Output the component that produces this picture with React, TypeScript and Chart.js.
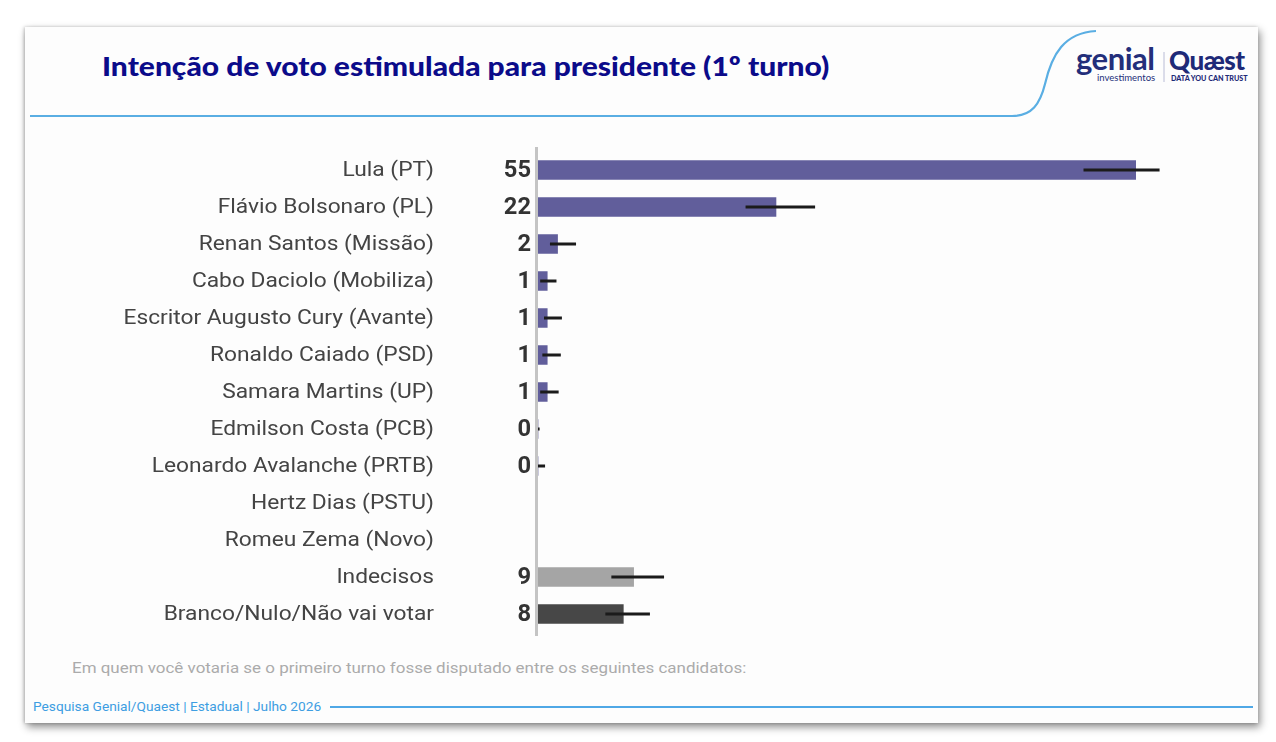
import React, { useEffect, useRef } from "react";
import { Chart, registerables } from "chart.js";

Chart.register(...registerables);

const categories = [
  "Lula (PT)",
  "Flávio Bolsonaro (PL)",
  "Renan Santos (Missão)",
  "Cabo Daciolo (Mobiliza)",
  "Escritor Augusto Cury (Avante)",
  "Ronaldo Caiado (PSD)",
  "Samara Martins (UP)",
  "Edmilson Costa (PCB)",
  "Leonardo Avalanche (PRTB)",
  "Hertz Dias (PSTU)",
  "Romeu Zema (Novo)",
  "Indecisos",
  "Branco/Nulo/Não vai votar",
];

const values: (number | null)[] = [55, 21.9, 1.8, 0.85, 0.85, 0.85, 0.85, 0, 0, null, null, 8.8, 7.85];
const errorLow: (number | null)[] = [50.2, 19.1, 1.1, 0.2, 0.55, 0.4, 0.2, 0, 0, null, null, 6.75, 6.2];
const errorHigh: (number | null)[] = [57.2, 25.5, 3.5, 1.7, 2.2, 2.1, 1.9, 0.15, 0.65, null, null, 11.6, 10.3];
const barColors = [
  "#615e9b", "#615e9b", "#615e9b", "#615e9b", "#615e9b", "#615e9b", "#615e9b",
  "#615e9b", "#615e9b", "#615e9b", "#615e9b", "#a5a5a5", "#474747",
];

const TITLE = "Intenção de voto estimulada para presidente (1º turno)";
const QUESTION = "Em quem você votaria se o primeiro turno fosse disputado entre os seguintes candidatos:";
const FOOTER = "Pesquisa Genial/Quaest | Estadual | Julho 2026";

const LABEL_STRETCH = 1.11;
const VALUE_STRETCH = 1.03;

const axisLinePlugin = {
  id: "axisLine",
  beforeDatasetsDraw(chart: any) {
    const { ctx, chartArea } = chart;
    ctx.save();
    ctx.strokeStyle = "#c4c4c4";
    ctx.lineWidth = 3;
    ctx.beginPath();
    ctx.moveTo(chartArea.left - 1.5, chartArea.top - 4.5);
    ctx.lineTo(chartArea.left - 1.5, chartArea.bottom + 3.5);
    ctx.stroke();
    ctx.restore();
  },
};

const categoryLabelPlugin = {
  id: "categoryLabels",
  afterDraw(chart: any) {
    const { ctx } = chart;
    const ys = chart.scales.y;
    ctx.save();
    ctx.fillStyle = "#444444";
    ctx.font = "20.5px Roboto";
    ctx.textAlign = "right";
    ctx.textBaseline = "middle";
    ys.ticks.forEach((t: any, i: number) => {
      const y = ys.getPixelForTick(i);
      const label = ys.getLabelForValue(t.value);
      ctx.save();
      ctx.translate(434, y + 1);
      ctx.scale(LABEL_STRETCH, 1);
      ctx.fillText(label, 0, 0);
      ctx.restore();
    });
    ctx.restore();
  },
};

const errorBarPlugin = {
  id: "errorBars",
  afterDatasetsDraw(chart: any) {
    const { ctx } = chart;
    const xs = chart.scales.x;
    const meta = chart.getDatasetMeta(0);
    ctx.save();
    ctx.strokeStyle = "#1b1b1b";
    ctx.lineWidth = 3;
    errorLow.forEach((lo, i) => {
      const hi = errorHigh[i];
      if (lo === null || hi === null) return;
      const el = meta.data[i];
      if (!el) return;
      const y = el.y;
      ctx.beginPath();
      ctx.moveTo(xs.getPixelForValue(lo), y);
      ctx.lineTo(xs.getPixelForValue(hi), y);
      ctx.stroke();
    });
    ctx.restore();
  },
};

const valueLabelPlugin = {
  id: "valueLabels",
  afterDatasetsDraw(chart: any) {
    const { ctx, chartArea } = chart;
    const meta = chart.getDatasetMeta(0);
    ctx.save();
    ctx.fillStyle = "#333333";
    ctx.font = "bold 23px Roboto";
    ctx.textAlign = "right";
    ctx.textBaseline = "middle";
    values.forEach((v, i) => {
      if (v === null) return;
      const el = meta.data[i];
      if (!el) return;
      ctx.save();
      ctx.translate(chartArea.left - 7, el.y + 1.5);
      ctx.scale(VALUE_STRETCH, 1);
      ctx.fillText(String(Math.round(v)), 0, 0);
      ctx.restore();
    });
    ctx.restore();
  },
};

export default function App() {
  const canvasRef = useRef<HTMLCanvasElement | null>(null);

  useEffect(() => {
    if (!canvasRef.current) return;
    const chart = new Chart(canvasRef.current, {
      type: "bar",
      data: {
        labels: categories,
        datasets: [
          {
            data: values as any,
            backgroundColor: barColors,
            borderWidth: 0,
            barThickness: 19,
          },
        ],
      },
      options: {
        indexAxis: "y",
        animation: false,
        responsive: false,
        maintainAspectRatio: false,
        layout: { padding: { top: 11.5, bottom: 12.5, left: 0, right: 86 } },
        plugins: {
          legend: { display: false },
          tooltip: { enabled: false },
          title: { display: false },
        },
        scales: {
          x: {
            display: false,
            min: 0,
            max: 60,
          },
          y: {
            grid: { display: false, drawTicks: false },
            border: { display: false },
            ticks: { display: false, autoSkip: false, padding: 0 },
            afterFit(scale: any) {
              scale.width = 538;
            },
          },
        },
      },
      plugins: [axisLinePlugin, errorBarPlugin, valueLabelPlugin, categoryLabelPlugin],
    });
    return () => chart.destroy();
  }, []);

  const stretch = (sx: number) => ({ transform: `scaleX(${sx})`, transformOrigin: "left center" });

  return (
    <div style={{ position: "absolute", left: 0, top: 0, width: 1276, height: 742, background: "#ffffff", overflow: "hidden", fontFamily: "Roboto, sans-serif" }}>
      <div
        style={{
          position: "absolute",
          left: 25,
          top: 27,
          width: 1233,
          height: 696,
          background: "#fdfdfd",
          boxShadow: "2px 4px 8px rgba(0,0,0,0.45), -1px 0 3px rgba(0,0,0,0.2)",
        }}
      />
      <svg width={1276} height={742} style={{ position: "absolute", left: 0, top: 0 }}>
        <path
          d="M30 116 L1012 116 C1032 116, 1040 104, 1045 84 C1052 54, 1064 33, 1096 31"
          fill="none"
          stroke="#5aaee3"
          strokeWidth={2.2}
        />
        <line x1={330} y1={707} x2={1253} y2={707} stroke="#4fa8e6" strokeWidth={2.2} />
        <line x1={1164} y1={52} x2={1164} y2={82} stroke="#b9bcd6" strokeWidth={1} />
      </svg>
      <div
        style={{
          position: "absolute",
          left: 102,
          top: 47,
          fontFamily: "Lato",
          fontWeight: 900,
          fontSize: 27,
          color: "#0b0b8a",
          whiteSpace: "nowrap",
          lineHeight: "38px",
          ...stretch(1.11),
        }}
      >
        {TITLE}
      </div>
      <div style={{ position: "absolute", left: 1076, top: 40, fontFamily: "Lato", fontWeight: 700, fontSize: 31, color: "#232e7a", lineHeight: "36px", letterSpacing: -0.5 }}>
        genial
      </div>
      <div style={{ position: "absolute", left: 1097, top: 72, fontFamily: "Lato", fontSize: 9.5, color: "#232e7a", lineHeight: "12px" }}>
        investimentos
      </div>
      <div style={{ position: "absolute", left: 1169, top: 44, fontFamily: "Lato", fontWeight: 900, fontSize: 26, color: "#1e2a78", lineHeight: "32px", letterSpacing: -0.5 }}>
        Quæst
      </div>
      <div style={{ position: "absolute", left: 1171, top: 74, fontFamily: "Lato", fontWeight: 900, fontSize: 7.2, color: "#1e2a78", lineHeight: "9px", whiteSpace: "nowrap" }}>
        DATA YOU CAN TRUST
      </div>
      <canvas
        ref={canvasRef}
        width={1276}
        height={505}
        style={{ position: "absolute", left: 0, top: 140, width: 1276, height: 505 }}
      />
      <div style={{ position: "absolute", left: 72, top: 657, fontFamily: "Roboto", fontSize: 15, color: "#ababab", whiteSpace: "nowrap", lineHeight: "22px", ...stretch(1.13) }}>
        {QUESTION}
      </div>
      <div style={{ position: "absolute", left: 33, top: 698, fontFamily: "Roboto", fontSize: 13, color: "#3e9ee2", whiteSpace: "nowrap", lineHeight: "18px", ...stretch(1.055) }}>
        {FOOTER}
      </div>
    </div>
  );
}
